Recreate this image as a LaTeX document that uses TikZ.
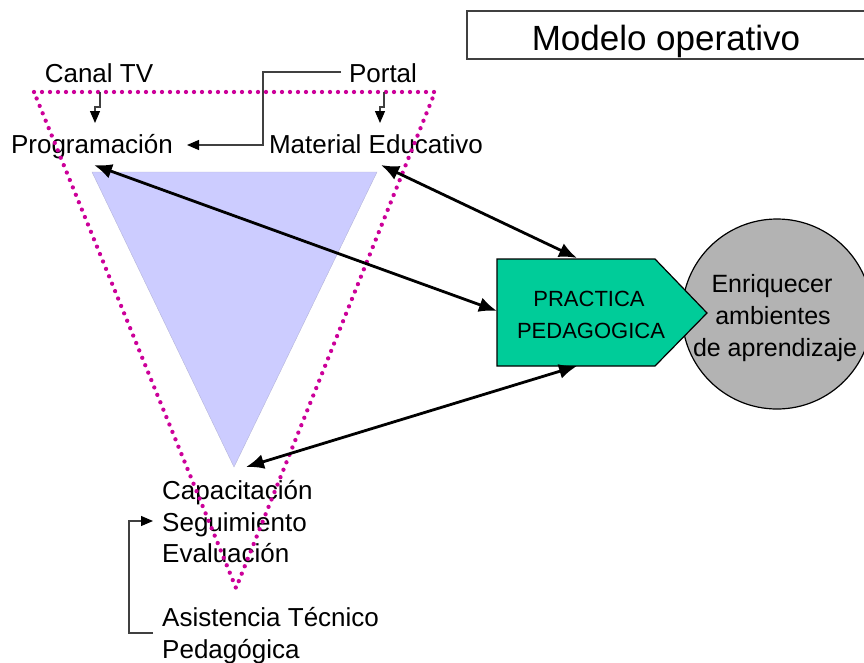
\documentclass[tikz,border=0pt]{standalone}
\usepackage{fontspec}
\setmainfont{Liberation Sans}
\usetikzlibrary{arrows.meta}
\definecolor{dotmag}{HTML}{CC0099}
\definecolor{lav}{HTML}{CCCCFF}
\definecolor{tealgreen}{HTML}{00CC99}
\definecolor{circgray}{HTML}{B3B3B3}
\definecolor{linegray}{HTML}{404040}
\tikzset{
  lbl/.style={anchor=base, inner sep=0pt, font=\fontsize{26}{31}\selectfont},
  lblw/.style={anchor=base west, inner sep=0pt, font=\fontsize{26}{31}\selectfont},
  biarrow/.style={line width=2.8pt, {Latex[length=18pt,width=15pt]}-{Latex[length=18pt,width=15pt]}},
  elbow/.style={linegray, line width=1.2pt, -{Triangle[length=12pt,width=10pt,color=black]}},
  dottri/.style={dotmag, line width=4.3pt, line cap=round, dash pattern=on 0pt off 8pt},
}
\begin{document}
\begin{tikzpicture}[x=1pt,y=-1pt]
\useasboundingbox (0,0) rectangle (864,662);
\clip (0,0) rectangle (864,662);

% title
\draw[linegray, line width=1.2pt] (467,11) rectangle (890,59);
\node[anchor=base, inner sep=0pt, font=\fontsize{35}{40}\selectfont] (title) at (666,50) {Modelo operativo};

% blue triangle
\fill[lav] (92,172) -- (377,172) -- (234,467) -- cycle;
\draw[lav!70!gray, line width=0.4pt] (92,172) -- (377,172) -- (234,467) -- cycle;

% circle
\node[circle, fill=circgray, draw=black, line width=1.2pt, minimum size=190pt, inner sep=0pt] (circ) at (777,314) {};
% pentagon
\coordinate (pTL) at (497,259);
\coordinate (pTR) at (655,259);
\coordinate (pTip) at (707,313);
\coordinate (pBR) at (655,366);
\coordinate (pBL) at (497,366);
\filldraw[fill=tealgreen, draw=black, line width=1.2pt] (pTL) -- (pTR) -- (pTip) -- (pBR) -- (pBL) -- cycle;
\node[lbl, font=\fontsize{22}{26}\selectfont] (pp1) at (589,306) {PRACTICA};
\node[lbl, font=\fontsize{22}{26}\selectfont] (pp2) at (591,338) {PEDAGOGICA};

\node[lbl, font=\fontsize{25}{30}\selectfont] (e1) at (772,292) {Enriquecer};
\node[lbl, font=\fontsize{25}{30}\selectfont] (e2) at (773,324) {ambientes};
\node[lbl, font=\fontsize{25}{30}\selectfont] (e3) at (775,356) {de aprendizaje};

% top labels
\node[lbl] (canal) at (99,82) {Canal TV};
\node[lbl] (portal) at (383,82) {Portal};
\node[lbl] (prog) at (92,153) {Programación};
\node[lbl] (mat) at (376,153) {Material Educativo};

% bottom labels
\node[lblw] (cap) at (162,499) {Capacitación};
\node[lblw] (seg) at (162,531) {Seguimiento};
\node[lblw] (eva) at (162,562) {Evaluación};
\node[lblw] (asi) at (162,626) {Asistencia Técnico};
\node[lblw] (ped) at (162,658) {Pedagógica};

% dotted triangle (over the labels)
\draw[dottri] (34,92) -- (435,92) -- (236,588) -- cycle;

% small elbows
\coordinate (c1) at (100,92);
\coordinate (c1t) at (95,123);
\draw[elbow] (c1) -- (100,107) -- (95,107) -- (c1t);
\coordinate (c2) at (384,92);
\coordinate (c2t) at (380,123);
\draw[elbow] (c2) -- (384,107) -- (380,107) -- (c2t);
% portal elbow
\coordinate (po) at (341,72);
\coordinate (pgt) at (187,145);
\draw[elbow] (po) -- (263,72) -- (263,145) -- (pgt);

\coordinate (b1) at (153,633);
\coordinate (b2) at (153,521);
\draw[elbow] (b1) -- (129,633) -- (129,521) -- (b2);

% double arrows
\coordinate (a1) at (94,165);
\coordinate (a1e) at (497,311);
\draw[biarrow] (a1) -- (a1e);
\coordinate (a2) at (381,165);
\coordinate (a2e) at (577,258);
\draw[biarrow] (a2) -- (a2e);
\coordinate (a3) at (246,467);
\coordinate (a3e) at (577,366);
\draw[biarrow] (a3) -- (a3e);
\end{tikzpicture}
\end{document}
